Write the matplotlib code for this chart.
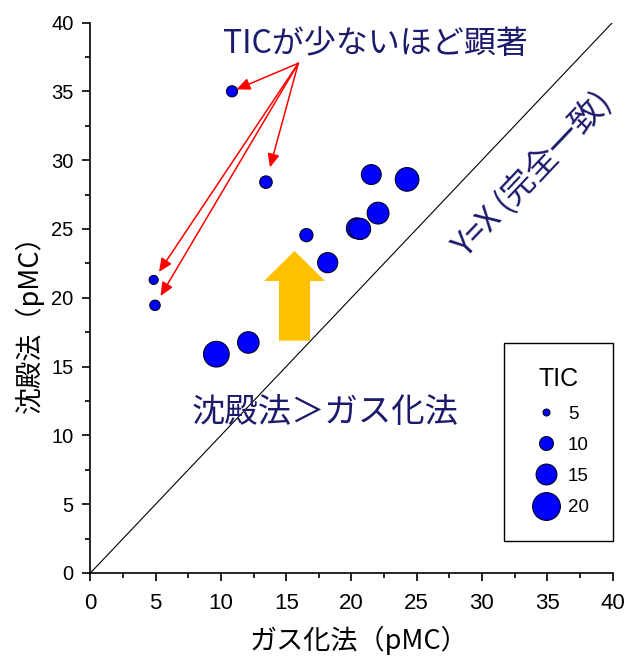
import matplotlib
matplotlib.use("Agg")
import matplotlib.pyplot as plt
from matplotlib.lines import Line2D
from matplotlib.patches import FancyArrow
from matplotlib.ticker import MultipleLocator

# Radiocarbon (pMC): gasification method vs precipitation method, mark size = TIC
gas_pmc = [10.85, 13.45, 4.85, 4.95, 16.55, 9.65, 12.10, 18.18, 20.41, 20.66, 22.04, 21.52, 24.26]
ppt_pmc = [35.0, 28.4, 21.3, 19.45, 24.55, 15.9, 16.75, 22.55, 25.05, 25.0, 26.15, 28.95, 28.6]
tic = [8.0, 9.0, 6.5, 7.5, 9.5, 18.5, 15.5, 14.5, 15.0, 15.2, 15.7, 14.3, 17.0]

# samples with little TIC (pointed at by the red arrows) and arrow gap in pt
low_tic_idx = [0, 1, 2, 3]
arrow_gap = [3.5, 11.0, 6.8, 7.8]

legend_tic = [5, 10, 15, 20]
tick_values = list(range(0, 41, 5))

JP = ["Noto Sans CJK JP", "DejaVu Sans"]
NARROW = ["Liberation Sans Narrow", "Liberation Sans", "DejaVu Sans"]
NAVY = "#1b1a6b"
DOT = "#0000ff"
DOT_EDGE = "#000020"

fig = plt.figure(figsize=(6.26, 6.57), dpi=100)
ax = fig.add_axes([90.4 / 626, (657 - 573) / 657, 522.1 / 626, 550.5 / 657])
ax.set_xlim(0, 40)
ax.set_ylim(0, 40)

# y = x reference line
ax.plot([0, 40], [0, 40], color="black", lw=0.8, zorder=1)

# bubbles
ax.scatter(gas_pmc, ppt_pmc, s=[t ** 2 for t in tic], c=DOT,
           edgecolors=DOT_EDGE, linewidths=0.8, zorder=3)

# red arrows from the note to the low-TIC samples
start = (15.93, 37.04)
for i, gap in zip(low_tic_idx, arrow_gap):
    ax.annotate("", xy=(gas_pmc[i], ppt_pmc[i]), xytext=start,
                arrowprops=dict(arrowstyle="-|>,head_length=0.45,head_width=0.2",
                                color="red", lw=1.1, shrinkA=0, shrinkB=gap,
                                mutation_scale=18),
                zorder=4)

# big yellow arrow
ax.add_patch(FancyArrow(15.64, 16.88, 0, 6.52, width=2.38, head_width=4.67,
                        head_length=2.18, length_includes_head=True,
                        color="#ffc000", lw=0, zorder=2))

ax.text(21.8, 38.44, "TICが少ないほど顕著", family=JP, fontsize=23,
        color=NAVY, ha="center", va="center")
ax.text(18.0, 11.63, "沈殿法＞ガス化法", family=JP, fontsize=24,
        color=NAVY, ha="center", va="center")
ax.text(33.85, 29.0, "Y=X (完全一致)", family=JP, fontsize=23.5,
        color=NAVY, ha="center", va="center", rotation=46.5,
        rotation_mode="anchor")

# axes styling
for side in ("top", "right"):
    ax.spines[side].set_visible(False)
for side in ("left", "bottom"):
    ax.spines[side].set_linewidth(1.2)
ax.set_xticks(tick_values)
ax.set_yticks(tick_values)
ax.xaxis.set_minor_locator(MultipleLocator(2.5))
ax.yaxis.set_minor_locator(MultipleLocator(2.5))
ax.tick_params(which="major", direction="out", length=6, width=1.2, pad=6)
ax.tick_params(which="minor", direction="out", length=3.5, width=1.2)
ax.tick_params(axis="x", which="major", pad=8.5)
for lab in ax.get_xticklabels():
    lab.set_family(NARROW)
    lab.set_stretch("condensed")
    lab.set_fontsize(16)
for lab in ax.get_yticklabels():
    lab.set_family(["Liberation Sans", "DejaVu Sans"])
    lab.set_fontsize(14.5)

ax.set_xlabel("ガス化法（pMC）", family=JP, fontsize=19.5)
ax.set_ylabel("沈殿法（pMC）", family=JP, fontsize=19.5)
ax.xaxis.set_label_coords(0.515, -0.1217)
ax.xaxis.label.set_va("center")
ax.yaxis.set_label_coords(-0.1176, 0.465)
ax.yaxis.label.set_va("center")

# size legend
handles = [Line2D([], [], ls="none", marker="o", markersize=v,
                  markerfacecolor=DOT, markeredgecolor=DOT_EDGE,
                  markeredgewidth=0.8) for v in legend_tic]
leg = ax.legend(handles, [str(v) for v in legend_tic], title="TIC",
                loc="upper left", bbox_to_anchor=(504 / 626, 1 - 343 / 657),
                bbox_transform=fig.transFigure, borderaxespad=0,
                frameon=True, fancybox=False, edgecolor="black",
                framealpha=1, borderpad=1.3, handlelength=1.9,
                handletextpad=0.2, labelspacing=0.75,
                prop={"family": NARROW, "size": 13.5, "stretch": "condensed"},
                title_fontproperties={"family": ["Liberation Sans", "DejaVu Sans"],
                                      "size": 18})
leg.get_frame().set_linewidth(1.0)

fig.savefig("out.png", dpi=100)
